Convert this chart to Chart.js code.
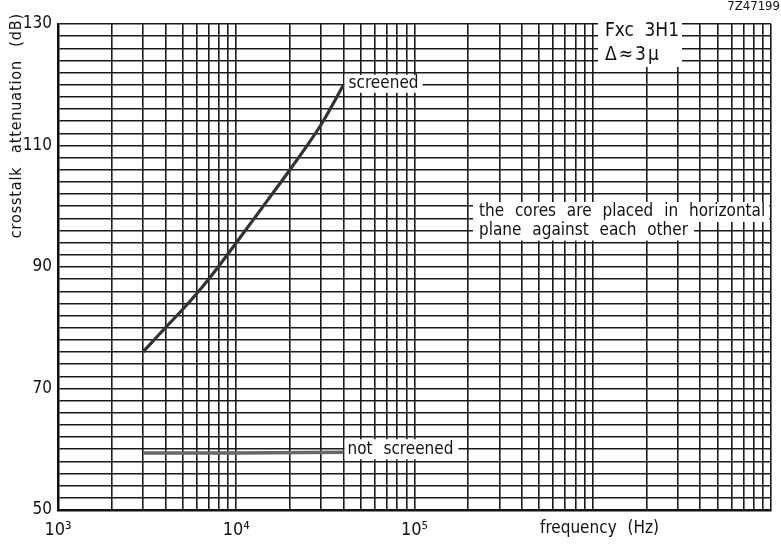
<!DOCTYPE html>
<html>
<head>
<meta charset="utf-8">
<script src="https://cdn.jsdelivr.net/npm/chart.js@4.4.1/dist/chart.umd.min.js"></script>
<style>
  html, body { margin: 0; padding: 0; background: #fff; }
  #wrap { width: 781px; height: 545px; }
</style>
</head>
<body>
<div id="wrap"><canvas id="chart" width="781" height="545"></canvas></div>
<script>
// screened cores: frequency (Hz) -> crosstalk attenuation (dB)
const screenedFreq = [3000, 4000, 5000, 7000, 10000, 15000, 20000, 30000, 40000];
const screenedDb = [76, 80, 83, 88, 94, 101, 106, 113.5, 120];

// not screened cores
const notScreenedFreq = [3000, 10000, 40000];
const notScreenedDb = [59.4, 59.4, 59.5];

// labelled ticks
const xTickValues = [1e3, 1e4, 1e5];
const xTickLabels = ['10³', '10⁴', '10⁵'];
const yTickValues = [50, 70, 90, 110, 130];
const yTickLabels = ['50', '70', '90', '110', '130'];

// grid: log paper 1..9 per decade, 2 dB steps
const xDecades = [1e3, 1e4, 1e5, 1e6];
const xMantissa = [1, 2, 3, 4, 5, 6, 7, 8, 9];
const yStep = 2;

const FONT = "'DejaVu Sans Condensed', 'DejaVu Sans', sans-serif";
const INK = '#111';

let xGridValues = [];
xDecades.forEach(d => xMantissa.forEach(m => xGridValues.push(m * d)));
xGridValues.push(1e7);

let yGridValues = [];
for (let v = 50; v <= 130; v += yStep) yGridValues.push(v);

// stencil lettering has wide word gaps
function setFont(ctx, size, wordGap, letterGap) {
    ctx.font = size + 'px ' + FONT;
    ctx.wordSpacing = (wordGap || 0) + 'px';
    ctx.letterSpacing = (letterGap || 0) + 'px';
}

function boxText(ctx, text, x, yc, size, padL, padR, h) {
    setFont(ctx, size, 6, 0);
    const w = ctx.measureText(text).width;
    ctx.fillStyle = '#fff';
    ctx.fillRect(x - padL, yc - h / 2, w + padL + padR, h);
    ctx.fillStyle = INK;
    ctx.textAlign = 'left';
    ctx.textBaseline = 'middle';
    ctx.fillText(text, x, yc);
}

const notesPlugin = {
    id: 'notes',
    afterDatasetsDraw(chart) {
        const { ctx, scales: { x, y } } = chart;
        ctx.save();

        // curve labels, placed at the end of each curve
        const sx = x.getPixelForValue(screenedFreq[screenedFreq.length - 1]);
        const sy = y.getPixelForValue(screenedDb[screenedDb.length - 1]);
        boxText(ctx, 'screened', sx + 5, sy - 1, 17, 4, 4, 18);

        const nx = x.getPixelForValue(notScreenedFreq[notScreenedFreq.length - 1]);
        const ny = y.getPixelForValue(notScreenedDb[notScreenedDb.length - 1]);
        boxText(ctx, 'not screened', nx + 4, ny - 3, 17, 3, 5, 20);

        // type box
        ctx.fillStyle = '#fff';
        ctx.fillRect(598, 20, 84, 47);
        ctx.fillStyle = INK;
        ctx.textAlign = 'left';
        ctx.textBaseline = 'middle';
        setFont(ctx, 19, 5, 0);
        ctx.fillText('Fxc 3H1', 605, 31);
        setFont(ctx, 19, 0, 2);
        ctx.fillText('\u0394\u22483\u03bc', 605, 55);

        // remark
        boxText(ctx, 'the cores are placed in horizontal', 479, 212, 17, 6, 4, 20);
        boxText(ctx, 'plane against each other', 479, 231, 17, 6, 6, 19);

        // drawing number
        setFont(ctx, 13, 0, 0);
        ctx.textAlign = 'right';
        ctx.fillStyle = INK;
        ctx.fillText('7Z47199', 780, 7);

        // axis titles
        setFont(ctx, 17, 6, 0);
        ctx.textAlign = 'left';
        ctx.fillText('frequency (Hz)', 540, 529);

        setFont(ctx, 16, 8, 0.85);
        ctx.textBaseline = 'alphabetic';
        ctx.translate(21, 13);
        ctx.rotate(-Math.PI / 2);
        ctx.textAlign = 'right';
        ctx.fillText('crosstalk attenuation (dB)', 0, 0);

        ctx.restore();
    }
};

new Chart(document.getElementById('chart'), {
    type: 'line',
    data: {
        datasets: [{
            label: 'screened',
            data: screenedFreq.map((f, i) => ({ x: f, y: screenedDb[i] })),
            borderColor: '#333',
            borderWidth: 3.2,
            pointRadius: 0,
            cubicInterpolationMode: 'monotone',
            fill: false
        }, {
            label: 'not screened',
            data: notScreenedFreq.map((f, i) => ({ x: f, y: notScreenedDb[i] })),
            borderColor: '#666',
            borderWidth: 3.5,
            pointRadius: 0,
            fill: false
        }]
    },
    options: {
        responsive: false,
        animation: false,
        layout: { padding: { top: 24, left: 0, right: 0, bottom: 0 } },
        plugins: {
            legend: { display: false },
            tooltip: { enabled: false }
        },
        scales: {
            x: {
                type: 'logarithmic',
                min: 1e3,
                max: 1e7,
                afterBuildTicks: s => { s.ticks = xGridValues.map(v => ({ value: v })); },
                afterFit: s => { s.height = 35; },
                grid: { color: '#1a1a1a', lineWidth: 1.6, drawTicks: false },
                border: { display: true, color: INK, width: 2.5 },
                ticks: {
                    autoSkip: false,
                    maxRotation: 0,
                    padding: 10,
                    color: INK,
                    font: { family: FONT, size: 18 },
                    callback: v => {
                        const i = xTickValues.indexOf(v);
                        return i >= 0 ? xTickLabels[i] : '';
                    }
                }
            },
            y: {
                min: 50,
                max: 130,
                afterBuildTicks: s => { s.ticks = yGridValues.map(v => ({ value: v })); },
                afterFit: s => { s.width = 58; },
                grid: { color: '#1a1a1a', lineWidth: 1.6, drawTicks: false },
                border: { display: true, color: INK, width: 2.5 },
                ticks: {
                    autoSkip: false,
                    padding: 6,
                    color: INK,
                    font: { family: FONT, size: 17 },
                    callback: v => {
                        const i = yTickValues.indexOf(v);
                        return i >= 0 ? yTickLabels[i] : '';
                    }
                }
            }
        }
    },
    plugins: [notesPlugin]
});
</script>
</body>
</html>
